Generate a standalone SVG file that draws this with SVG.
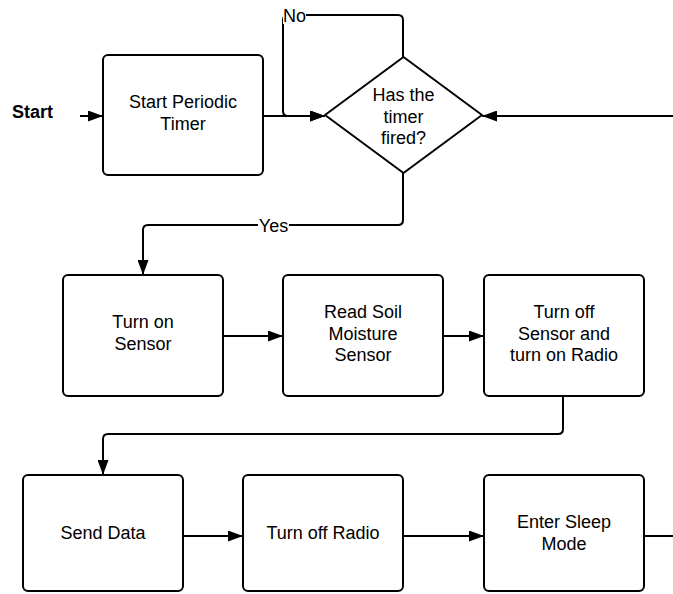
<svg xmlns="http://www.w3.org/2000/svg" width="673" height="594" viewBox="0 0 673 594">
  <defs>
    <marker id="arrow" markerWidth="15" markerHeight="11" refX="15" refY="5.5" orient="auto" markerUnits="userSpaceOnUse">
      <path d="M0,0 L15,5.5 L0,11 Z" fill="#000"/>
    </marker>
    <style>
      .box { fill: #fff; stroke: #000; stroke-width: 2; }
      .edge { fill: none; stroke: #000; stroke-width: 2; stroke-linejoin: round; }
      .lbl { font-family: "Liberation Sans", Arial, sans-serif; font-size: 18px; fill: #000; text-anchor: middle; }
      .bold { font-weight: bold; text-anchor: start; }
    </style>
  </defs>
  <rect width="673" height="594" fill="#fff"/>

  <!-- connectors -->
  <g id="connectors">
    <path class="edge" d="M80,116 H103" marker-end="url(#arrow)"/>
    <path class="edge" d="M263,116 H325" marker-end="url(#arrow)"/>
    <path class="edge" d="M403,57 V20 Q403,15 398,15 H288 Q283,15 283,20 V111 Q283,116 288,116 H325" marker-end="url(#arrow)"/>
    <path class="edge" d="M673,116 H482" marker-end="url(#arrow)"/>
    <path class="edge" d="M403,173 V220 Q403,225 398,225 H148 Q143,225 143,230 V275" marker-end="url(#arrow)"/>
    <path class="edge" d="M223,336 H283" marker-end="url(#arrow)"/>
    <path class="edge" d="M443,336 H484" marker-end="url(#arrow)"/>
    <path class="edge" d="M563,396 V429 Q563,434 558,434 H108 Q103,434 103,439 V475" marker-end="url(#arrow)"/>
    <path class="edge" d="M183,536 H243" marker-end="url(#arrow)"/>
    <path class="edge" d="M403,536 H484" marker-end="url(#arrow)"/>
    <path class="edge" d="M644,536 H673"/>
    <!-- branch labels -->
    <rect x="283" y="6" width="23" height="18" fill="#fff"/>
    <text class="lbl" x="294.5" y="22">No</text>
    <rect x="258" y="216" width="31" height="18" fill="#fff"/>
    <text class="lbl" x="273.5" y="232">Yes</text>
  </g>

  <g id="start">
    <text class="lbl bold" x="12" y="118">Start</text>
  </g>

  <g id="start-timer">
    <rect class="box" x="103" y="55" width="160" height="120" rx="5"/>
    <text class="lbl" x="183" y="108">Start Periodic</text>
    <text class="lbl" x="183" y="130">Timer</text>
  </g>

  <g id="timer-fired">
    <path class="box" stroke-linejoin="round" d="M403.5,57 L482,115 L403.5,173 L325,115 Z"/>
    <text class="lbl" x="403.5" y="101">Has the</text>
    <text class="lbl" x="403.5" y="122.5">timer</text>
    <text class="lbl" x="403.5" y="144">fired?</text>
  </g>

  <g id="sensor-on">
    <rect class="box" x="63" y="275" width="160" height="121" rx="5"/>
    <text class="lbl" x="143" y="328">Turn on</text>
    <text class="lbl" x="143" y="350">Sensor</text>
  </g>

  <g id="read-soil">
    <rect class="box" x="283" y="275" width="160" height="121" rx="5"/>
    <text class="lbl" x="363" y="318">Read Soil</text>
    <text class="lbl" x="363" y="340">Moisture</text>
    <text class="lbl" x="363" y="361">Sensor</text>
  </g>

  <g id="sensor-off-radio-on">
    <rect class="box" x="484" y="275" width="160" height="121" rx="5"/>
    <text class="lbl" x="564" y="318">Turn off</text>
    <text class="lbl" x="564" y="340">Sensor and</text>
    <text class="lbl" x="564" y="361">turn on Radio</text>
  </g>

  <g id="send-data">
    <rect class="box" x="23" y="475" width="160" height="116" rx="5"/>
    <text class="lbl" x="103" y="539">Send Data</text>
  </g>

  <g id="radio-off">
    <rect class="box" x="243" y="475" width="160" height="116" rx="5"/>
    <text class="lbl" x="323" y="539">Turn off Radio</text>
  </g>

  <g id="sleep">
    <rect class="box" x="484" y="475" width="160" height="116" rx="5"/>
    <text class="lbl" x="564" y="528">Enter Sleep</text>
    <text class="lbl" x="564" y="550">Mode</text>
  </g>
</svg>
